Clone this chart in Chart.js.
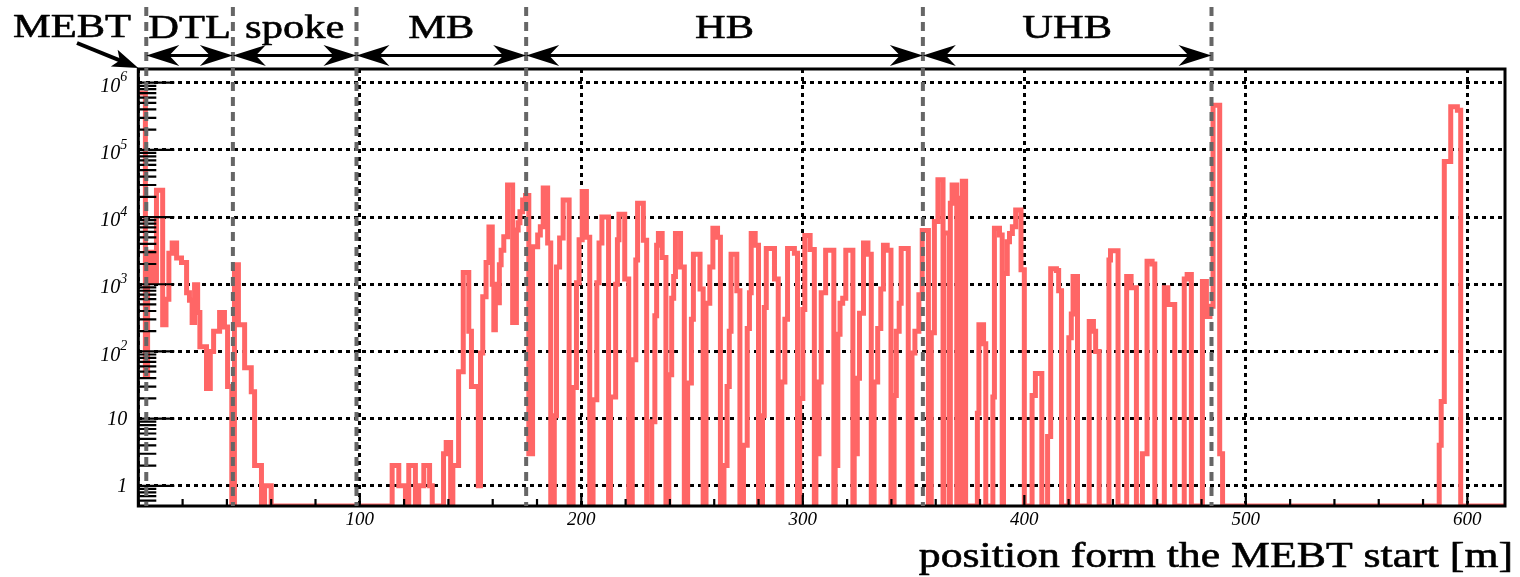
<!DOCTYPE html>
<html>
<head>
<meta charset="utf-8">
<script src="https://cdn.jsdelivr.net/npm/chart.js@4.4.1/dist/chart.umd.min.js"></script>
<style>
  html, body { margin: 0; padding: 0; background: #ffffff; }
  #wrap { width: 1520px; height: 577px; position: relative; }
</style>
</head>
<body>
<div id="wrap"><canvas id="lossChart" width="1520" height="577"></canvas></div>
<script>
// ---- axis ranges and tick labels ----
const Y_MIN = 0.5, Y_MAX = 1.6e6;
const X_MIN = 0, X_MAX = 617;
const yDecades = [1, 10, 100, 1e3, 1e4, 1e5, 1e6];
const yTickBase = ['1', '10', '10', '10', '10', '10', '10'];
const yTickExp  = ['', '', '2', '3', '4', '5', '6'];
const xMajorStep = 100, xMinorStep = 20;

// ---- linac sections (start of each section along the beam line, m) ----
const sectionEdges = [3.6, 42.7, 98.5, 175.1, 354.2, 484.5];
const sectionNames = ['DTL', 'spoke', 'MB', 'HB', 'UHB'];
const axisTitle = 'position form the MEBT start [m]';

// ---- loss profile: [position where the level starts (m), value] ----
const dtlLoss = [
  [0, 7e5], [3.2, 45], [4.2, 3000], [6.3, 1100], [8.2, 25000], [11.0, 250], [12.5, 600],
  [13.8, 2900], [15.3, 4100], [17.3, 2450], [19.5, 2100], [21.8, 750], [23.1, 580],
  [24.3, 270], [25.4, 980], [26.8, 380], [27.8, 117], [30.8, 28], [32.5, 100], [34.0, 200],
  [36.7, 380], [38.9, 230], [40.3, 30], [42.2, 0]
];
const spokeLoss = [
  [43.4, 1950], [45.2, 250], [48.0, 57], [51.0, 25], [52.5, 2], [55.6, 0], [57.0, 1], [60.0, 0]
];
const mbLoss = [
  [114.6, 2], [117.6, 1], [120.6, 0], [122.1, 2], [125.1, 0], [126.6, 1], [128.9, 2],
  [131.5, 1], [132.7, 0], [137.8, 3], [139.0, 4.4], [141.0, 0], [142.0, 2], [144.6, 50],
  [146.7, 1500], [149.2, 200], [150.4, 30], [153.5, 1], [154.5, 95], [155.5, 650],
  [157.0, 2100], [158.3, 7100], [159.8, 1000], [160.5, 210], [161.2, 1000], [162.3, 530],
  [163.0, 1950], [163.8, 3200], [165.0, 5100], [166.7, 30000], [169.0, 270], [170.7, 6400],
  [171.5, 8200], [172.3, 12000], [173.5, 18000], [174.8, 21000]
];
const hbLoss = [
  [176.3, 3], [178.0, 3600], [180.3, 5400], [181.5, 7200], [182.8, 27000], [184.8, 4100], [186.2, 0],
  [187.8, 11], [188.8, 1800], [190.2, 4900], [191.8, 18000], [194.5, 0],
  [196.3, 29], [197.8, 1050], [199.0, 4600], [200.4, 24000], [202.3, 5000], [203.8, 0],
  [205.3, 19], [207.0, 1050], [208.0, 4100], [209.3, 10000], [212.3, 0],
  [213.2, 21], [215.5, 1000], [216.3, 4600], [217.0, 11000], [219.6, 1200], [221.4, 0],
  [223.0, 75], [224.6, 2300], [225.4, 16000], [228.0, 4500], [229.5, 0],
  [231.8, 9], [233.2, 340], [234.0, 3800], [234.8, 5700], [236.5, 2500], [238.2, 0],
  [239.5, 45], [240.8, 620], [241.7, 1300], [242.5, 5700], [244.8, 1800], [246.5, 0],
  [248.0, 34], [249.7, 300], [250.6, 2800], [253.6, 850], [255.0, 0],
  [256.3, 520], [258.0, 1800], [259.4, 6800], [261.5, 5000], [262.8, 0],
  [264.4, 2], [265.8, 30], [266.8, 200], [267.6, 2800], [270.2, 800], [271.6, 0],
  [273.2, 4], [274.9, 220], [275.9, 750], [276.7, 5700], [278.5, 3800], [280.0, 0],
  [281.8, 11], [282.6, 450], [283.5, 3400], [287.2, 1200], [288.9, 0],
  [290.5, 35], [291.9, 300], [293.1, 3400], [296.2, 2900], [297.6, 0],
  [298.6, 20], [300.0, 420], [300.9, 5300], [303.3, 3300], [305.2, 0],
  [305.9, 3], [307.3, 35], [308.3, 750], [310.3, 3200], [314.0, 0],
  [314.6, 2], [315.8, 180], [316.8, 520], [318.0, 620], [319.4, 3200], [322.6, 0],
  [323.2, 3], [324.6, 40], [325.6, 370], [327.4, 4100], [329.4, 2800], [330.9, 0],
  [332.2, 35], [333.8, 220], [335.2, 850], [336.4, 3800], [338.1, 3200], [339.8, 0],
  [341.2, 22], [342.2, 200], [343.5, 520], [344.4, 3400], [347.6, 0],
  [349.3, 95], [350.6, 200], [352.4, 700]
];
const uhbLoss = [
  [353.9, 6300], [356.7, 0], [358.0, 190], [359.4, 8600], [361.0, 36000], [363.3, 0],
  [363.7, 5800], [366.2, 0], [366.6, 16000], [367.4, 30000], [369.5, 0], [369.9, 19000],
  [371.6, 0], [372.0, 34000], [373.5, 0],
  [378.8, 12], [379.5, 250], [381.6, 130], [382.6, 0],
  [385.8, 21], [386.5, 6800], [388.8, 5400], [390.0, 0], [390.6, 1450], [392.3, 4300],
  [393.3, 5700], [394.6, 7200], [396.1, 12700], [398.5, 1650], [400.0, 0],
  [403.5, 22], [405.0, 47], [407.9, 0],
  [410.5, 5.4], [411.9, 1700], [414.5, 1600], [415.5, 800], [416.8, 0],
  [420.1, 160], [421.2, 360], [422.0, 1300], [424.0, 0],
  [429.3, 280], [431.2, 200], [432.2, 100], [433.8, 0],
  [438.2, 2300], [438.9, 3150], [442.3, 0],
  [446.2, 1300], [448.2, 890], [450.6, 0],
  [453.3, 3], [455.4, 2200], [457.7, 2000], [458.9, 0],
  [463.2, 890], [464.8, 500], [467.9, 0],
  [472.2, 1200], [473.5, 1400], [475.4, 0],
  [480.4, 1100], [482.2, 330], [483.8, 470]
];
const dumpLoss = [
  [485.2, 460000], [488.2, 3], [489.5, 0],
  [587.3, 4], [588.2, 18], [589.6, 67000], [592.5, 440000], [595.5, 390000], [597.0, 0],
  [617.0, 0]
];

// empty bins sit on the lower edge of the log axis
const profile = [].concat(dtlLoss, spokeLoss, mbLoss, hbLoss, uhbLoss, dumpLoss)
  .map(([pos, val]) => ({ x: pos, y: val > 0 ? val : Y_MIN }));

const SERIF = '"Liberation Serif", "Times New Roman", serif';

// wide serif lettering, slightly emboldened with a thin outline
function stretchedText(ctx, text, x, y, font, sx, align, weight) {
  ctx.save();
  ctx.font = font;
  ctx.textAlign = align;
  ctx.textBaseline = 'alphabetic';
  ctx.translate(x, y);
  ctx.scale(sx, 1);
  ctx.fillStyle = '#000';
  ctx.fillText(text, 0, 0);
  if (weight) {
    ctx.strokeStyle = '#000';
    ctx.lineWidth = weight;
    ctx.lineJoin = 'round';
    ctx.strokeText(text, 0, 0);
  }
  ctx.restore();
}

function arrowHead(ctx, tx, ty, angle, len, half, notch) {
  ctx.save();
  ctx.translate(tx, ty);
  ctx.rotate(angle);
  ctx.beginPath();
  ctx.moveTo(0, 0);
  ctx.lineTo(-len, -half);
  ctx.lineTo(-notch, 0);
  ctx.lineTo(-len, half);
  ctx.closePath();
  ctx.fill();
  ctx.restore();
}

const overlay = {
  id: 'overlay',
  afterDatasetsDraw(chart) {
    const { ctx, chartArea: a, scales: { x, y } } = chart;
    ctx.save();

    // tick marks inside the frame
    ctx.strokeStyle = '#000';
    ctx.lineWidth = 2.2;
    ctx.beginPath();
    for (let e = -1; e <= 6; e++) {
      for (let m = 1; m <= 9; m++) {
        const v = m * Math.pow(10, e);
        if (v < Y_MIN || v > Y_MAX) continue;
        const py = y.getPixelForValue(v);
        const len = m === 1 ? 36 : 18;
        ctx.moveTo(a.left, py);
        ctx.lineTo(a.left + len, py);
      }
    }
    for (let v = X_MIN; v <= X_MAX; v += xMinorStep) {
      const px = x.getPixelForValue(v);
      const len = v % xMajorStep === 0 ? 11 : 7;
      ctx.moveTo(px, a.bottom);
      ctx.lineTo(px, a.bottom - len);
    }
    ctx.stroke();

    // frame
    ctx.lineWidth = 3;
    ctx.strokeRect(a.left, a.top, a.right - a.left, a.bottom - a.top);

    // section boundaries
    ctx.strokeStyle = '#666666';
    ctx.lineWidth = 4;
    ctx.setLineDash([9, 6]);
    ctx.beginPath();
    sectionEdges.forEach(edge => {
      const px = x.getPixelForValue(edge);
      ctx.moveTo(px, 7);
      ctx.lineTo(px, a.bottom);
    });
    ctx.stroke();
    ctx.setLineDash([]);

    // double arrows and section names
    const arrowY = 55.5;
    ctx.strokeStyle = '#000';
    ctx.fillStyle = '#000';
    ctx.lineWidth = 3.2;
    for (let i = 0; i < sectionNames.length; i++) {
      const x1 = x.getPixelForValue(sectionEdges[i]);
      const x2 = x.getPixelForValue(sectionEdges[i + 1]);
      ctx.beginPath();
      ctx.moveTo(x1 + 8, arrowY);
      ctx.lineTo(x2 - 8, arrowY);
      ctx.stroke();
      arrowHead(ctx, x1, arrowY, Math.PI, 33, 10.5, 23);
      arrowHead(ctx, x2, arrowY, 0, 33, 10.5, 23);
      stretchedText(ctx, sectionNames[i], (x1 + x2) / 2, 38, '34px ' + SERIF, 1.25, 'center', 0.6);
    }

    // MEBT label pointing at the start of the line
    stretchedText(ctx, 'MEBT', 13, 37, '34px ' + SERIF, 1.25, 'left', 0.6);
    const tipX = x.getPixelForValue(0), tipY = a.top - 1;
    const sx0 = 77, sy0 = 43;
    const ang = Math.atan2(tipY - sy0, tipX - sx0);
    ctx.lineWidth = 4;
    ctx.beginPath();
    ctx.moveTo(sx0, sy0);
    ctx.lineTo(tipX - 18 * Math.cos(ang), tipY - 18 * Math.sin(ang));
    ctx.stroke();
    arrowHead(ctx, tipX, tipY, ang, 26, 9, 20);

    // log axis labels with exponents
    const labelRight = a.left - 11;
    ctx.fillStyle = '#000';
    yDecades.forEach((v, i) => {
      const py = y.getPixelForValue(v);
      ctx.textBaseline = 'middle';
      if (!yTickExp[i]) {
        ctx.font = 'italic 20px ' + SERIF;
        ctx.textAlign = 'right';
        ctx.fillText(yTickBase[i], labelRight, py + 1);
      } else {
        ctx.font = 'italic 14px ' + SERIF;
        const ew = ctx.measureText(yTickExp[i]).width;
        ctx.textAlign = 'left';
        ctx.fillText(yTickExp[i], labelRight - ew, py - 5);
        ctx.font = 'italic 20px ' + SERIF;
        ctx.textAlign = 'right';
        ctx.fillText(yTickBase[i], labelRight - ew, py + 4);
      }
    });

    // axis title
    stretchedText(ctx, axisTitle, 1513, 567, '35px ' + SERIF, 1.25, 'right', 0.6);
    ctx.restore();
  }
};

new Chart(document.getElementById('lossChart'), {
  type: 'line',
  data: {
    datasets: [{
      data: profile,
      stepped: 'before',
      borderColor: '#ff6666',
      borderWidth: 5,
      pointRadius: 0,
      fill: false,
      tension: 0
    }]
  },
  options: {
    responsive: false,
    animation: false,
    devicePixelRatio: 1,
    layout: { padding: { top: 69, right: 15, left: 0, bottom: 0 } },
    plugins: { legend: { display: false }, tooltip: { enabled: false } },
    scales: {
      x: {
        type: 'linear',
        min: X_MIN,
        max: X_MAX,
        afterFit: s => { s.height = 71; },
        afterBuildTicks: s => {
          const t = [];
          for (let v = X_MIN; v <= X_MAX; v += xMajorStep) t.push({ value: v });
          s.ticks = t;
        },
        ticks: {
          autoSkip: false,
          maxRotation: 0,
          padding: 3,
          color: '#000',
          font: { family: SERIF, style: 'italic', size: 19 },
          callback: v => (v === 0 ? '' : String(v))
        },
        grid: { color: '#000', lineWidth: 3, drawTicks: false },
        border: { display: false, dash: [4, 4] }
      },
      y: {
        type: 'logarithmic',
        min: Y_MIN,
        max: Y_MAX,
        afterFit: s => { s.width = 138.3; },
        afterBuildTicks: s => { s.ticks = yDecades.map(v => ({ value: v, major: true })); },
        ticks: { display: false },
        grid: { color: '#000', lineWidth: 3, drawTicks: false },
        border: { display: false, dash: [4, 4] }
      }
    }
  },
  plugins: [overlay]
});
</script>
</body>
</html>
